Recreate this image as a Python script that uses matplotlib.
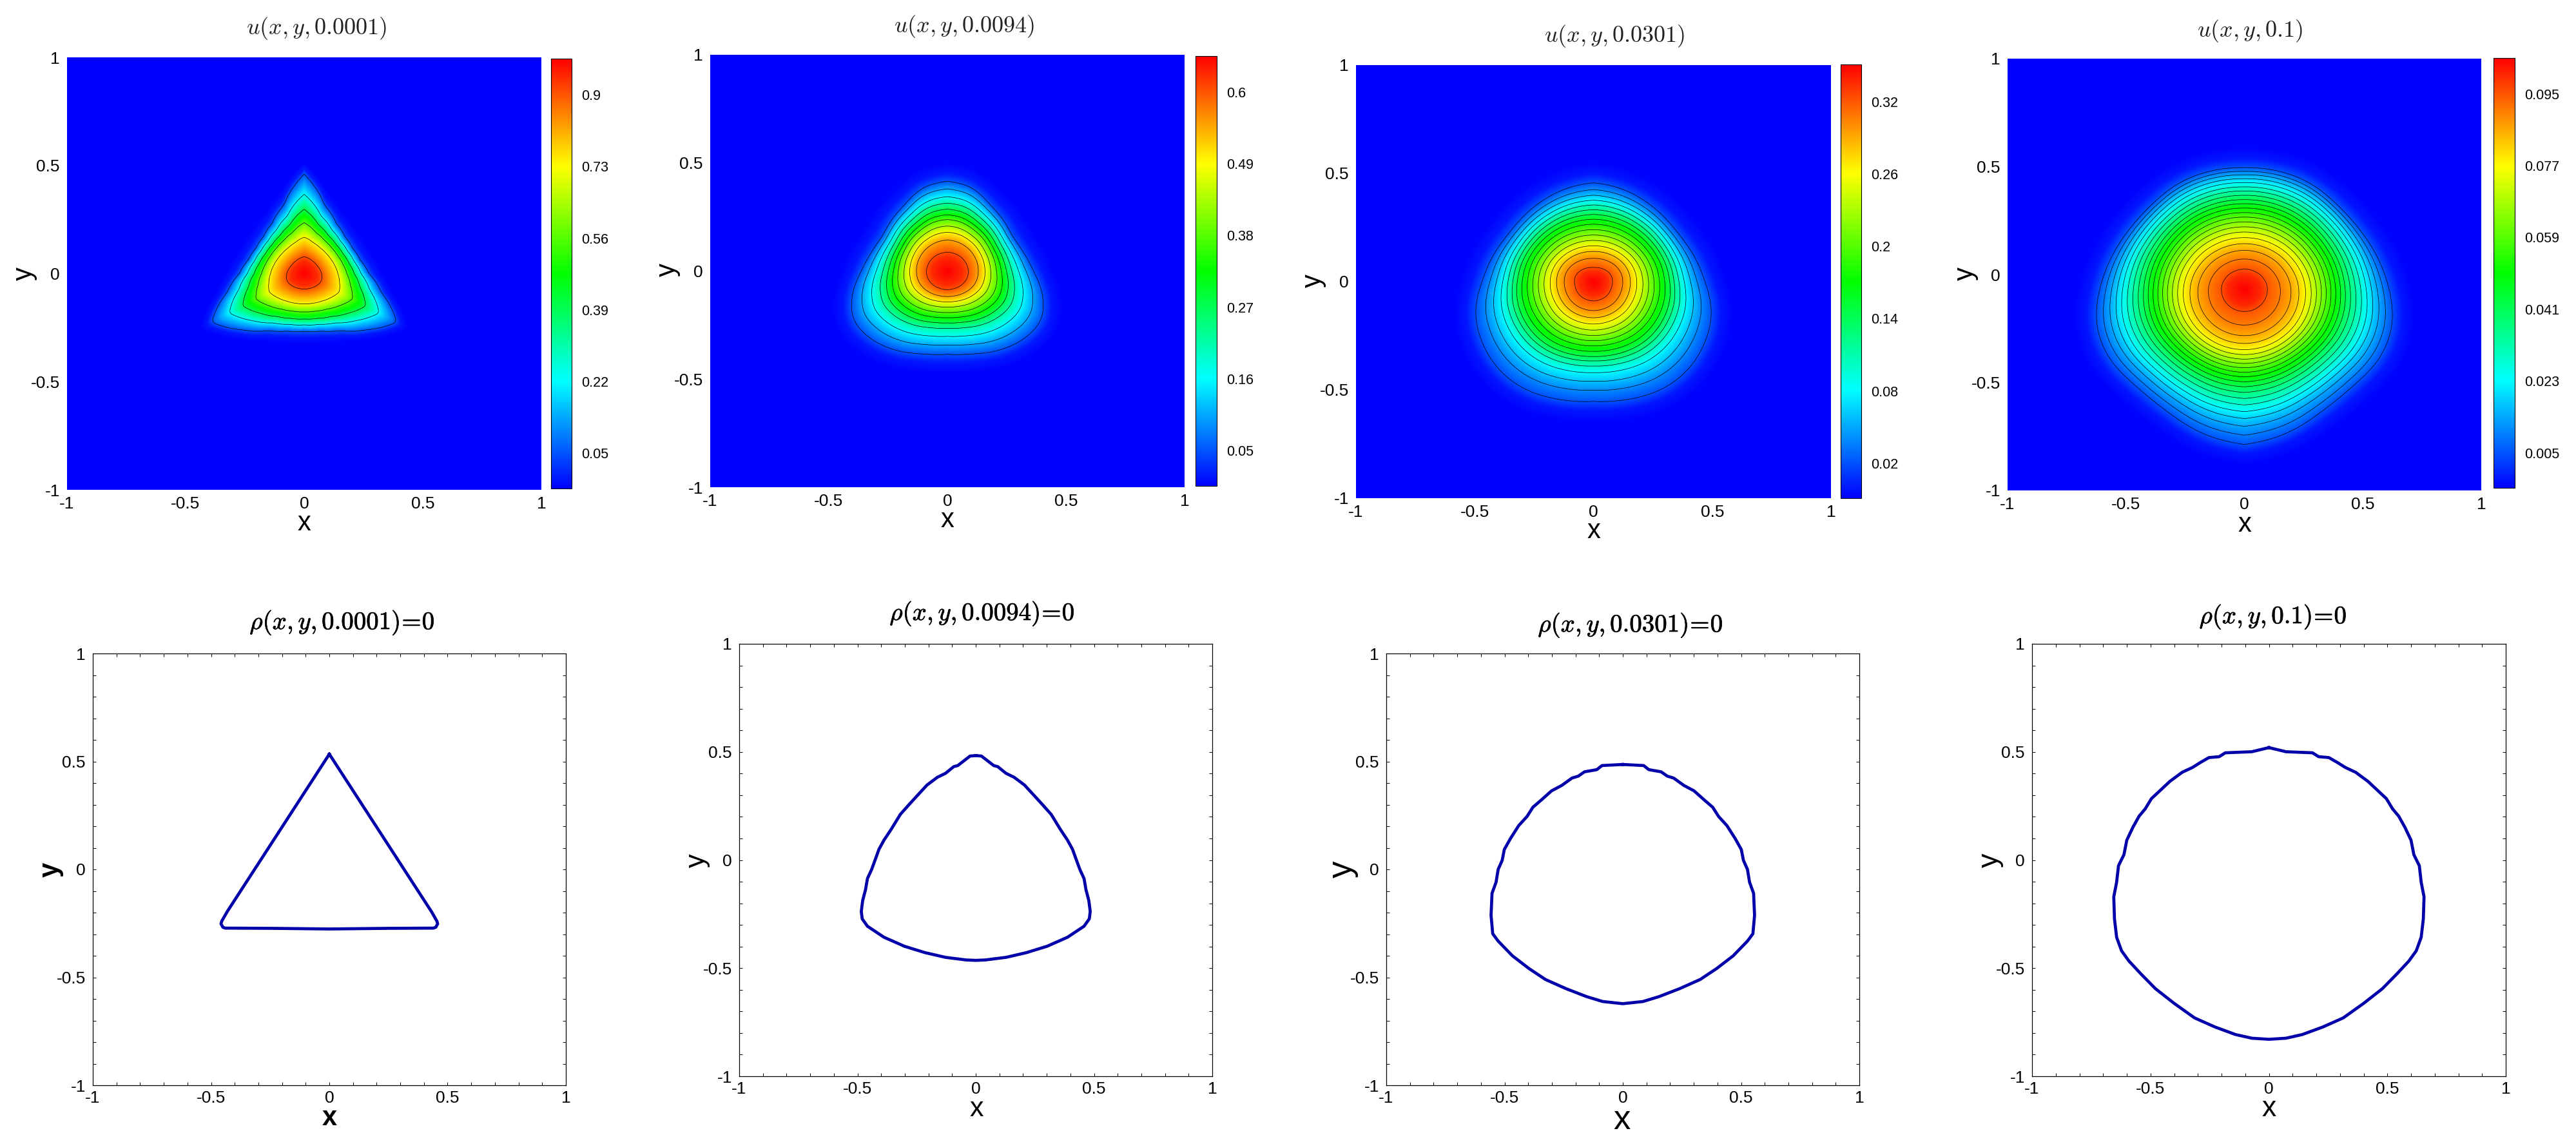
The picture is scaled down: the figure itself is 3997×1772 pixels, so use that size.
import numpy as np
import matplotlib
matplotlib.use("Agg")
import matplotlib.pyplot as plt
import matplotlib.patheffects as pe
from matplotlib.colors import LinearSegmentedColormap, Normalize
from matplotlib.cm import ScalarMappable

W, H = 3997, 1772
plt.rcParams['font.family'] = ['Liberation Sans', 'DejaVu Sans']
plt.rcParams['mathtext.fontset'] = 'cm'

# ---------- data ----------
times = ['0.0001', '0.0094', '0.0301', '0.1']
angles = np.arange(-90, 91, 15)

u1_ticks = [0.05, 0.22, 0.39, 0.56, 0.73, 0.9]
u1_ticklabels = ['0.05', '0.22', '0.39', '0.56', '0.73', '0.9']
u1_range = (-0.034, 0.986)
u1_levels = [0.05, 0.22, 0.39, 0.56, 0.73, 0.9]
u1_up = [.459, .367, .298, .236, .169, .078]
u1_down = [.267, .237, .21, .177, .14, .071]
u1_outer = [.267, .275, .304, .368, .45, .336, .273, .244, .235, .242, .269, .328, .459]
u1_inner = [.071, .072, .074, .077, .08, .078, .073, .069, .066, .066, .068, .073, .078]
u1_fade = 0.06

u2_ticks = [0.05, 0.16, 0.27, 0.38, 0.49, 0.6]
u2_ticklabels = ['0.05', '0.16', '0.27', '0.38', '0.49', '0.6']
u2_range = (-0.004, 0.655)
u2_levels = [.05, .105, .16, .215, .27, .325, .38, .435, .49, .545, .6]
u2_up = [.415, .38, .344, .314, .286, .26, .238, .208, .179, .143, .087]
u2_down = [.385, .342, .302, .265, .24, .216, .192, .167, .143, .118, .086]
u2_outer = [.385, .395, .425, .45, .46, .415, .36, .33, .315, .332, .354, .40, .415]
u2_inner = [.086, .086, .087, .088, .089, .089, .088, .087, .086, .086, .086, .086, .087]
u2_fade = 0.09

u3_ticks = [0.02, 0.08, 0.14, 0.2, 0.26, 0.32]
u3_ticklabels = ['0.02', '0.08', '0.14', '0.2', '0.26', '0.32']
u3_range = (-0.009, 0.351)
u3_levels = [.02, .04, .06, .08, .10, .12, .14, .16, .18, .20, .22, .24, .26, .28, .30, .32]
u3_up = [.456, .425, .399, .376, .354, .332, .31, .288, .265, .24, .215, .19, .165, .139, .107, .065]
u3_down = [.553, .501, .46, .42, .39, .366, .346, .322, .297, .273, .249, .224, .196, .167, .134, .089]
u3_outer = [.553, .562, .577, .57, .545, .517, .465, .44, .418, .42, .43, .445, .456]
u3_inner = [.089, .088, .087, .085, .082, .08, .08, .08, .078, .074, .07, .067, .065]
u3_fade = 0.10

u4_ticks = [0.005, 0.023, 0.041, 0.059, 0.077, 0.095]
u4_ticklabels = ['0.005', '0.023', '0.041', '0.059', '0.077', '0.095']
u4_range = (-0.0038, 0.104)
u4_levels = [.005, .0095, .014, .0185, .023, .0275, .032, .0365, .041, .0455, .05,
             .0545, .059, .0635, .068, .0725, .077, .0815, .086, .0905, .095]
u4_up = [.565, .548, .532, .514, .496, .476, .457, .437, .417, .398, .378,
         .357, .336, .314, .291, .267, .241, .213, .182, .142, .095]
u4_down = [.717, .674, .633, .597, .565, .534, .504, .476, .45, .427, .404,
           .383, .362, .342, .322, .301, .278, .249, .213, .164, .101]
u4_outer = [.717, .69, .648, .635, .655, .648, .61, .58, .558, .552, .566, .568, .565]
u4_inner = [.101, .101, .1, .099, .098, .097, .097, .097, .096, .096, .095, .095, .095]
u4_fade = 0.10

u_centers = [0.0, 0.0, 0.0, -0.07]

rho1_x = [0, .432, .455, .458, .45, .44, .25, 0]
rho1_y = [.534, -.196, -.24, -.252, -.268, -.272, -.273, -.276]

rho2_x = [0, .024, .076, .093, .128, .162, .206, .249, .284, .319, .357, .388, .409, .423,
          .44, .458, .466, .478, .484, .48, .458, .388, .301, .215, .128, .041, 0]
rho2_y = [.483, .481, .437, .432, .401, .383, .347, .296, .254, .211, .143, .092, .05, .008,
          -.043, -.086, -.137, -.187, -.238, -.272, -.306, -.357, -.399, -.428, -.45, -.462, -.464]

rho3_x = [0, .088, .11, .162, .188, .215, .258, .301, .345, .38, .405, .44, .475, .501, .51,
          .527, .536, .553, .557, .55, .527, .467, .397, .327, .241, .154, .085, 0]
rho3_y = [.486, .481, .462, .452, .432, .423, .389, .364, .321, .288, .245, .203, .143, .092, .042,
          0, -.06, -.111, -.213, -.298, -.332, -.4, -.459, -.51, -.552, -.589, -.612, -.622]

rho4_x = [0, .072, .184, .21, .253, .288, .323, .366, .418, .496, .522, .548, .574, .6, .612,
          .635, .643, .655, .652, .643, .622, .591, .54, .479, .401, .314, .228, .141, .072, 0]
rho4_y = [.52, .501, .496, .478, .474, .452, .428, .406, .364, .284, .237, .203, .152, .092, .025,
          -.026, -.103, -.17, -.272, -.357, -.42, -.467, -.527, -.595, -.662, -.73, -.772, -.807, -.824, -.829]

axis_ticks = [-1, -0.5, 0, 0.5, 1]
axis_ticklabels = ['-1', '-0.5', '0', '0.5', '1']

# ---------- layout (pixels) ----------
top_boxes = [(104, 840, 89, 760), (1102, 1838, 85, 756), (2104, 2841, 101, 773), (3115, 3850, 91, 761)]
cbar_boxes = [(855, 887, 91, 758), (1855, 1888, 87, 754), (2856, 2888, 100, 773), (3869, 3902, 90, 757)]
bot_boxes = [(144, 878, 1014, 1684), (1147, 1881, 999, 1670), (2151, 2885, 1014, 1684), (3153, 3888, 999, 1670)]
top_title_pos = [(491, 44), (1496, 41), (2505, 56), (3491, 48)]
bot_title_pos = [(531, 966), (1524, 952), (2530, 970), (3527, 957)]
top_x_pos = [(472, 812), (1470, 807), (2473, 824), (3483, 814)]
top_y_pos = [(38, 425), (1036, 419), (2038, 436), (3050, 425)]
bot_x_pos = [(511, 1735), (1515, 1721), (2517, 1738), (3521, 1721)]
bot_y_pos = [(79, 1349), (1082, 1335), (2083, 1349), (3088, 1335)]
bot_x_size = [30, 31, 38, 32]
bot_x_weight = ['bold', 'normal', 'normal', 'normal']
# how quickly the outer shape gives way to the inner one, and the angular smoothing in degrees
shape_power = [1.7, 1.6, 2.5, 3.0]
shape_smooth = [2, 10, 14, 12]

cmap = LinearSegmentedColormap.from_list(
    'small_rainbow', [(0, 0, 1), (0, 1, 1), (0, 1, 0), (1, 1, 0), (1, 0, 0)], N=512)
line_blue = '#0000AA'

fig = plt.figure(figsize=(W / 100, H / 100), dpi=100, facecolor='white')


def add_box(box):
    x0, x1, y0, y1 = box
    return fig.add_axes([x0 / W, 1 - y1 / H, (x1 - x0) / W, (y1 - y0) / H])


def put(pos, s, **kw):
    return fig.text(pos[0] / W, 1 - pos[1] / H, s, ha='center', va='center', **kw)


def smooth_cyclic(a, half):
    """Triangular running mean over a periodic array sampled every degree."""
    if half < 1:
        return a
    w = 1.0 - np.abs(np.arange(-half, half + 1)) / (half + 1)
    w /= w.sum()
    body = a[:-1]
    n = body.size
    ext = np.concatenate((body[-half:], body, body[:half]))
    out = np.convolve(ext, w, mode='valid')
    return np.append(out, out[0]) if out.size == n else out


def field(levels, up, down, outer, inner, fade, vrange, power, smooth):
    vmin, vmax = vrange
    up, down = np.array(up), np.array(down)
    outer, inner = np.array(outer), np.array(inner)
    q = 0.5 * ((up - up[-1]) / (up[0] - up[-1]) + (down - down[-1]) / (down[0] - down[-1]))
    weight = q ** power
    theta = np.radians(np.arange(0, 361, 1.0))
    folded = np.degrees(np.arcsin(np.clip(np.sin(theta), -1, 1)))
    s = np.sin(theta)
    ro = smooth_cyclic(np.interp(folded, angles, outer), smooth)
    ri = smooth_cyclic(np.interp(folded, angles, inner), 8)
    # the ends on the vertical axis keep their read values
    keep = np.clip(np.abs(s) - 0.97, 0, 0.03) / 0.03
    ro = ro * (1 - keep) + np.interp(folded, angles, outer) * keep
    up_w = (1 + s) / 2
    dev_o = ro - (up_w * up[0] + (1 - up_w) * down[0])
    dev_i = ri - (up_w * up[-1] + (1 - up_w) * down[-1])
    v_knots = np.concatenate(([vmin, vmin + 0.3 * (levels[0] - vmin)], levels,
                              [vmax - 0.49 * (vmax - levels[-1]), vmax]))
    v_fine = np.linspace(vmin, vmax, 420)
    R = np.zeros((theta.size, v_fine.size))
    for i in range(theta.size):
        base = up_w[i] * up + (1 - up_w[i]) * down
        rl = base + weight * dev_o[i] + (1 - weight) * dev_i[i]
        knots = np.concatenate(([rl[0] + fade, rl[0] + 0.4 * fade], rl, [0.7 * rl[-1], 0.0]))
        R[i] = np.interp(v_fine, v_knots, knots)
    V = np.tile(v_fine, (theta.size, 1))
    return theta, R, V


u_sets = [
    (u1_levels, u1_up, u1_down, u1_outer, u1_inner, u1_fade, u1_range, u1_ticks, u1_ticklabels),
    (u2_levels, u2_up, u2_down, u2_outer, u2_inner, u2_fade, u2_range, u2_ticks, u2_ticklabels),
    (u3_levels, u3_up, u3_down, u3_outer, u3_inner, u3_fade, u3_range, u3_ticks, u3_ticklabels),
    (u4_levels, u4_up, u4_down, u4_outer, u4_inner, u4_fade, u4_range, u4_ticks, u4_ticklabels),
]
rho_sets = [(rho1_x, rho1_y), (rho2_x, rho2_y), (rho3_x, rho3_y), (rho4_x, rho4_y)]

for k in range(4):
    lv, up, dn, ou, inn, fd, vr, tk, tl = u_sets[k]
    ax = add_box(top_boxes[k])
    ax.set_facecolor((0, 0, 1))
    norm = Normalize(vr[0], vr[1])
    th, R, V = field(lv, up, dn, ou, inn, fd, vr, shape_power[k], shape_smooth[k])
    X = R * np.cos(th)[:, None]
    Y = u_centers[k] + R * np.sin(th)[:, None]
    ax.pcolormesh(X, Y, V, shading='gouraud', cmap=cmap, norm=norm, rasterized=True)
    ax.contour(X, Y, V, levels=lv, colors='black', linewidths=0.5)
    ax.set_xlim(-1, 1)
    ax.set_ylim(-1, 1)
    ax.set_xticks(axis_ticks, axis_ticklabels)
    ax.set_yticks(axis_ticks, axis_ticklabels)
    ax.tick_params(axis='both', length=0, labelsize=19)
    ax.tick_params(axis='x', pad=7)
    ax.tick_params(axis='y', pad=8)
    for sp in ax.spines.values():
        sp.set_visible(False)

    cax = add_box(cbar_boxes[k])
    cb = fig.colorbar(ScalarMappable(norm=norm, cmap=cmap), cax=cax, ticks=tk)
    cb.ax.set_yticklabels(tl)
    cb.ax.tick_params(length=0, labelsize=15.5, pad=11)
    cb.ax.minorticks_off()
    cb.outline.set_linewidth(0.8)

    put(top_title_pos[k], rf'$u(x, y, {times[k]})$', fontsize=26, color='#222222')
    put(top_x_pos[k], 'x', fontsize=30)
    put(top_y_pos[k], 'y', fontsize=30, rotation=90)

    # bottom row
    ax2 = add_box(bot_boxes[k])
    rx, ry = rho_sets[k]
    rx = np.array(rx)
    ry = np.array(ry)
    xs = np.concatenate((rx, -rx[::-1]))
    ys = np.concatenate((ry, ry[::-1]))
    ax2.plot(xs, ys, color=line_blue, lw=3.4, solid_joinstyle='round')
    ax2.set_xlim(-1, 1)
    ax2.set_ylim(-1, 1)
    ax2.set_xticks(axis_ticks, axis_ticklabels)
    ax2.set_yticks(axis_ticks, axis_ticklabels)
    ax2.set_xticks(np.arange(-1, 1.01, 0.1), minor=True)
    ax2.set_yticks(np.arange(-1, 1.01, 0.1), minor=True)
    ax2.tick_params(axis='both', which='both', direction='in', top=True, right=True,
                    length=3.5, width=0.7)
    ax2.tick_params(axis='both', which='major', labelsize=19)
    ax2.tick_params(axis='x', which='major', pad=6)
    ax2.tick_params(axis='y', which='major', pad=8)
    for sp in ax2.spines.values():
        sp.set_linewidth(0.9)
    t = put(bot_title_pos[k], rf'$\rho(x, y, {times[k]})\!=\!0$', fontsize=28, color='black')
    t.set_path_effects([pe.withStroke(linewidth=0.5, foreground='black')])
    put(bot_x_pos[k], 'x', fontsize=bot_x_size[k], fontweight=bot_x_weight[k])
    put(bot_y_pos[k], 'y', fontsize=bot_x_size[k], fontweight=bot_x_weight[k], rotation=90)

fig.savefig('out.png', dpi=100, facecolor='white')
